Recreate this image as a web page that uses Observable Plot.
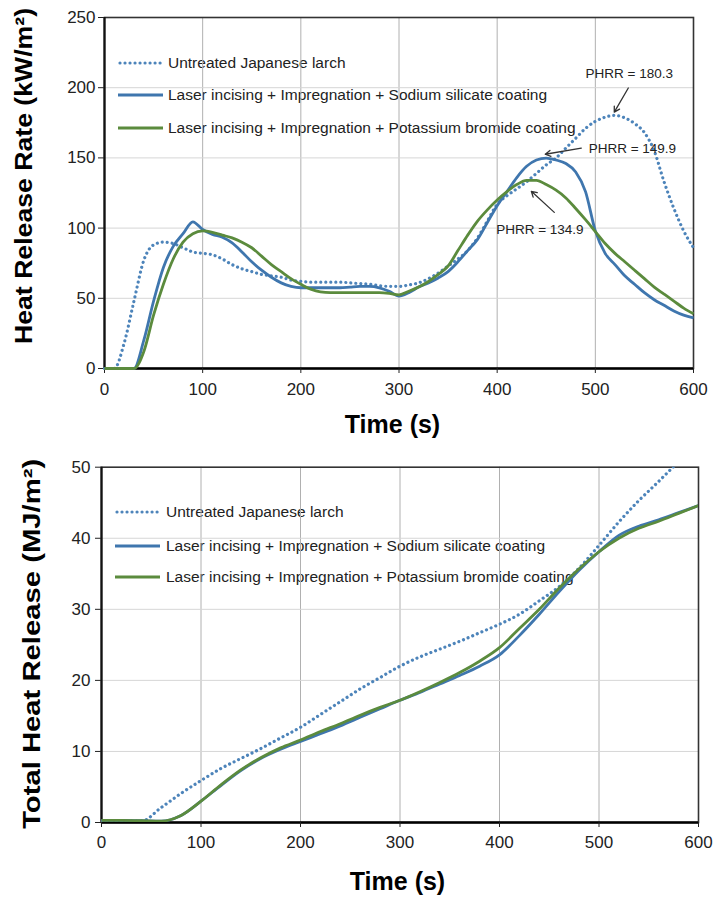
<!DOCTYPE html>
<html>
<head>
<meta charset="utf-8">
<script src="https://cdn.jsdelivr.net/npm/d3@7"></script>
<script src="https://cdn.jsdelivr.net/npm/@observablehq/plot@0.6"></script>
<style>
  html, body { margin: 0; padding: 0; background: #fff; }
  #wrap { position: relative; width: 715px; height: 898px; overflow: hidden; font-family: "Liberation Sans", Arial, sans-serif; }
  .chart { position: absolute; left: 0; z-index: 1; }
  .legend-row { position: absolute; z-index: 0; height: 20px; display: flex; align-items: center; white-space: nowrap; font-size: 15.5px; color: #222; }
  .legend-row svg { display: block; flex: none; }
</style>
</head>
<body>
<div id="wrap"></div>
<script>
// ---------- data ----------
const seriesNames = [
  "Untreated Japanese larch",
  "Laser incising + Impregnation + Sodium silicate coating",
  "Laser incising + Impregnation + Potassium bromide coating"
];
const xTicks = [0, 100, 200, 300, 400, 500, 600];
const hrrTicks = [0, 50, 100, 150, 200, 250];
const thrTicks = [0, 10, 20, 30, 40, 50];

// Heat release rate (kW/m2), every 10 s
const hrrTime = [0,10,20,30,40,50,60,70,80,90,100,110,120,130,140,150,160,170,180,190,200,210,220,230,240,250,260,270,280,290,300,310,320,330,340,350,360,370,380,390,400,410,420,430,440,450,460,470,480,490,500,510,520,530,540,550,560,570,580,590,600];
const hrrUntreated = [0,0,18,48,77,88,90,89,86,83,82,81,78,74,71,69,67,66,65,63,62,61.5,61.5,61.5,61.5,61,60.5,60,59,58.5,58.5,59.5,61,64,68,73,78,84,93,105,117,123,128,133,139,145,150,157,164,171,176,179,180.3,178.5,174.5,168,155,133,114,98,86];
const hrrSodium = [0,0,0,0,20,48,72,87,96,104.5,99,95.5,93.5,89.5,83,76,70,65,61,58.5,57.5,57.5,57.5,57.5,57.5,58,58.5,58.5,57.5,55,51.5,54,58,61,64.5,69,76,84,92,104,116,126,136,144,148.5,149.9,148.5,146,140,126,98,82,74,66,60,54,49,45,41,38,36];
const hrrPotassium = [0,0,0,0,12,38,60,78,90,96,98,97,95,93,90,86,80,74,69,64,60,56.5,54.5,54,54,54,54,54,54,53.5,52.5,55,58,62,67,73,84,95,105,113,120,126,131,134,134,131,127,121.5,114,106,97.5,89,82,76,70,64,58,53,48,43,39];

// Total heat release (MJ/m2), every 20 s
const thrTime = [0,20,40,60,80,100,120,140,160,180,200,220,240,260,280,300,320,340,360,380,400,420,440,460,480,500,520,540,560,580,600];
const thrUntreated = [0.2,0.2,0.2,2.1,4.1,5.9,7.6,9.0,10.4,11.9,13.4,15.2,17.0,18.8,20.4,22.0,23.3,24.4,25.5,26.7,27.9,29.3,31.2,33.2,35.8,39.0,42.3,45.3,48.0,50.8,53.6];
const thrSodium = [0.3,0.3,0.25,0.2,1.0,3.0,5.2,7.3,9.0,10.3,11.4,12.5,13.6,14.8,16.0,17.2,18.3,19.5,20.7,22.0,23.6,26.3,29.3,32.5,35.5,38.1,40.4,41.7,42.6,43.6,44.6];
const thrPotassium = [0.3,0.3,0.25,0.2,1.0,3.0,5.3,7.4,9.1,10.5,11.6,12.8,13.9,15.1,16.2,17.2,18.4,19.7,21.1,22.7,24.6,27.3,30.0,33.0,35.7,38.1,40.0,41.4,42.4,43.5,44.6];

// PHRR annotations (data coordinates)
const phrrLabels = ["PHRR = 180.3", "PHRR = 149.9", "PHRR = 134.9"];
const phrrTextX = [534.6, 537.7, 443.5];
const phrrTextY = [209.8, 156.9, 99.1];
const phrrTailX = [533.6, 485.7, 458.2];
const phrrTailY = [199.8, 156.9, 111.2];
const phrrTipX = [519.3, 449, 434.8];
const phrrTipY = [182.6, 152.6, 126.2];

const hrrTitle = "Heat Release Rate (kW/m²)";
const thrTitle = "Total Heat Release (MJ/m²)";
const xTitle = "Time (s)";

// ---------- styles ----------
const seriesColors = ["#4d84ba", "#3f76ae", "#5b8b3d"];
const seriesDash = ["0.01 5", null, null];
const FONT = "'Liberation Sans', Arial, sans-serif";

function toRows(time, vals) { return time.map((t, i) => ({t, v: vals[i]})); }

function lineMarks(time, arrays, clip) {
  return arrays.map((arr, k) => Plot.line(toRows(time, arr), {
    x: "t", y: "v", stroke: seriesColors[k], strokeWidth: k === 0 ? 3.2 : 2.8,
    strokeDasharray: seriesDash[k] || undefined, strokeLinecap: k === 0 ? "round" : "butt",
    curve: "monotone-x", clip: clip
  }));
}

function baseMarks(yTicks) {
  return [
    Plot.gridX(xTicks.slice(1, -1), {stroke: "#b0b0b0", strokeOpacity: 1, strokeWidth: 1}),
    Plot.gridY(yTicks.slice(1, -1), {stroke: "#d6d6d6", strokeOpacity: 1, strokeWidth: 1}),
  ];
}

const wrap = document.getElementById("wrap");

// ---------- top chart ----------
const topChart = Plot.plot({
  width: 715, height: 440,
  marginTop: 17, marginBottom: 72, marginLeft: 104, marginRight: 22,
  style: {background: "transparent", fontFamily: FONT, fontSize: "17px", color: "#222", overflow: "visible"},
  x: {domain: [0, 600]},
  y: {domain: [0, 250]},
  marks: [
    ...baseMarks(hrrTicks),
    Plot.frame({stroke: "#333", strokeWidth: 1.6}),
    Plot.ruleX([0], {stroke: "#111", strokeWidth: 2.2}),
    Plot.ruleY([0], {stroke: "#000", strokeWidth: 2.6}),
    Plot.axisX(xTicks, {tickSize: 5, tickPadding: 9, label: null}),
    Plot.axisY(hrrTicks, {tickSize: 6, tickPadding: 3, label: null}),
    ...lineMarks(hrrTime, [hrrUntreated, hrrSodium, hrrPotassium], false),
    Plot.arrow(phrrLabels, {x1: phrrTailX, y1: phrrTailY, x2: phrrTipX, y2: phrrTipY, stroke: "#333", strokeWidth: 1.3, headLength: 7}),
    Plot.text(phrrLabels, {x: phrrTextX, y: phrrTextY, text: d => d, fontSize: 13.5, fill: "#222"}),
    Plot.text([xTitle], {text: d => d, frameAnchor: "bottom", dy: 64, dx: -6.5, fontSize: 25, fontWeight: "bold", fill: "#000"}),
    Plot.text([hrrTitle], {text: d => d, frameAnchor: "left", rotate: -90, dx: -80.5, dy: -17, fontSize: 24, fontWeight: "bold", fill: "#000"})
  ]
});
topChart.classList.add("chart");
topChart.style.top = "0px";
wrap.appendChild(topChart);

// ---------- bottom chart ----------
const bottomChart = Plot.plot({
  width: 715, height: 458,
  marginTop: 26.7, marginBottom: 76, marginLeft: 101, marginRight: 17,
  style: {background: "transparent", fontFamily: FONT, fontSize: "17px", color: "#222", overflow: "visible"},
  x: {domain: [0, 600]},
  y: {domain: [0, 50]},
  marks: [
    ...baseMarks(thrTicks),
    Plot.frame({stroke: "#333", strokeWidth: 1.6}),
    Plot.ruleX([0], {stroke: "#111", strokeWidth: 2.2}),
    Plot.ruleY([0], {stroke: "#000", strokeWidth: 2.6}),
    Plot.axisX(xTicks, {tickSize: 5, tickPadding: 8, label: null}),
    Plot.axisY(thrTicks, {tickSize: 6, tickPadding: 5, label: null}),
    ...lineMarks(thrTime, [thrUntreated, thrSodium, thrPotassium], true),
    Plot.text([xTitle], {text: d => d, frameAnchor: "bottom", dy: 67, dx: -2.5, fontSize: 25, fontWeight: "bold", fill: "#000"}),
    Plot.text([thrTitle], {text: d => d, frameAnchor: "left", rotate: -90, dx: -68.5, dy: -1, fontSize: 23, fontWeight: "bold", fill: "#000"})
  ]
});
bottomChart.classList.add("chart");
bottomChart.style.top = "440px";
wrap.appendChild(bottomChart);

// stretch rotated titles to the reference lengths (anchored explicitly at start, centred by hand)
function fitRotated(svg, str, len) {
  d3.select(svg).selectAll("text").filter(function () { return this.textContent === str; })
    .attr("text-anchor", "start").attr("x", -len / 2)
    .attr("textLength", len).attr("lengthAdjust", "spacingAndGlyphs");
}
fitRotated(topChart, hrrTitle, 336);
fitRotated(bottomChart, thrTitle, 370);

// ---------- legends (HTML, beneath the plot layers) ----------
function addLegend(rowCenters, symLeft, textGap) {
  seriesNames.forEach((name, k) => {
    const row = document.createElement("div");
    row.className = "legend-row";
    row.style.left = symLeft + "px";
    row.style.top = (rowCenters[k] - 10) + "px";
    const svg = d3.create("svg").attr("width", 45).attr("height", 6);
    svg.append("line").attr("x1", k === 0 ? 2 : 0).attr("x2", 45).attr("y1", 3).attr("y2", 3)
      .attr("stroke", seriesColors[k]).attr("stroke-width", k === 0 ? 3.2 : 3)
      .attr("stroke-dasharray", seriesDash[k]).attr("stroke-linecap", k === 0 ? "round" : "butt");
    row.appendChild(svg.node());
    const span = document.createElement("span");
    span.style.marginLeft = textGap + "px";
    span.textContent = name;
    row.appendChild(span);
    wrap.appendChild(row);
  });
}
addLegend([62.7, 95, 127.7], 118, 5);
addLegend([511.7, 546, 577], 115, 6);
</script>
</body>
</html>
